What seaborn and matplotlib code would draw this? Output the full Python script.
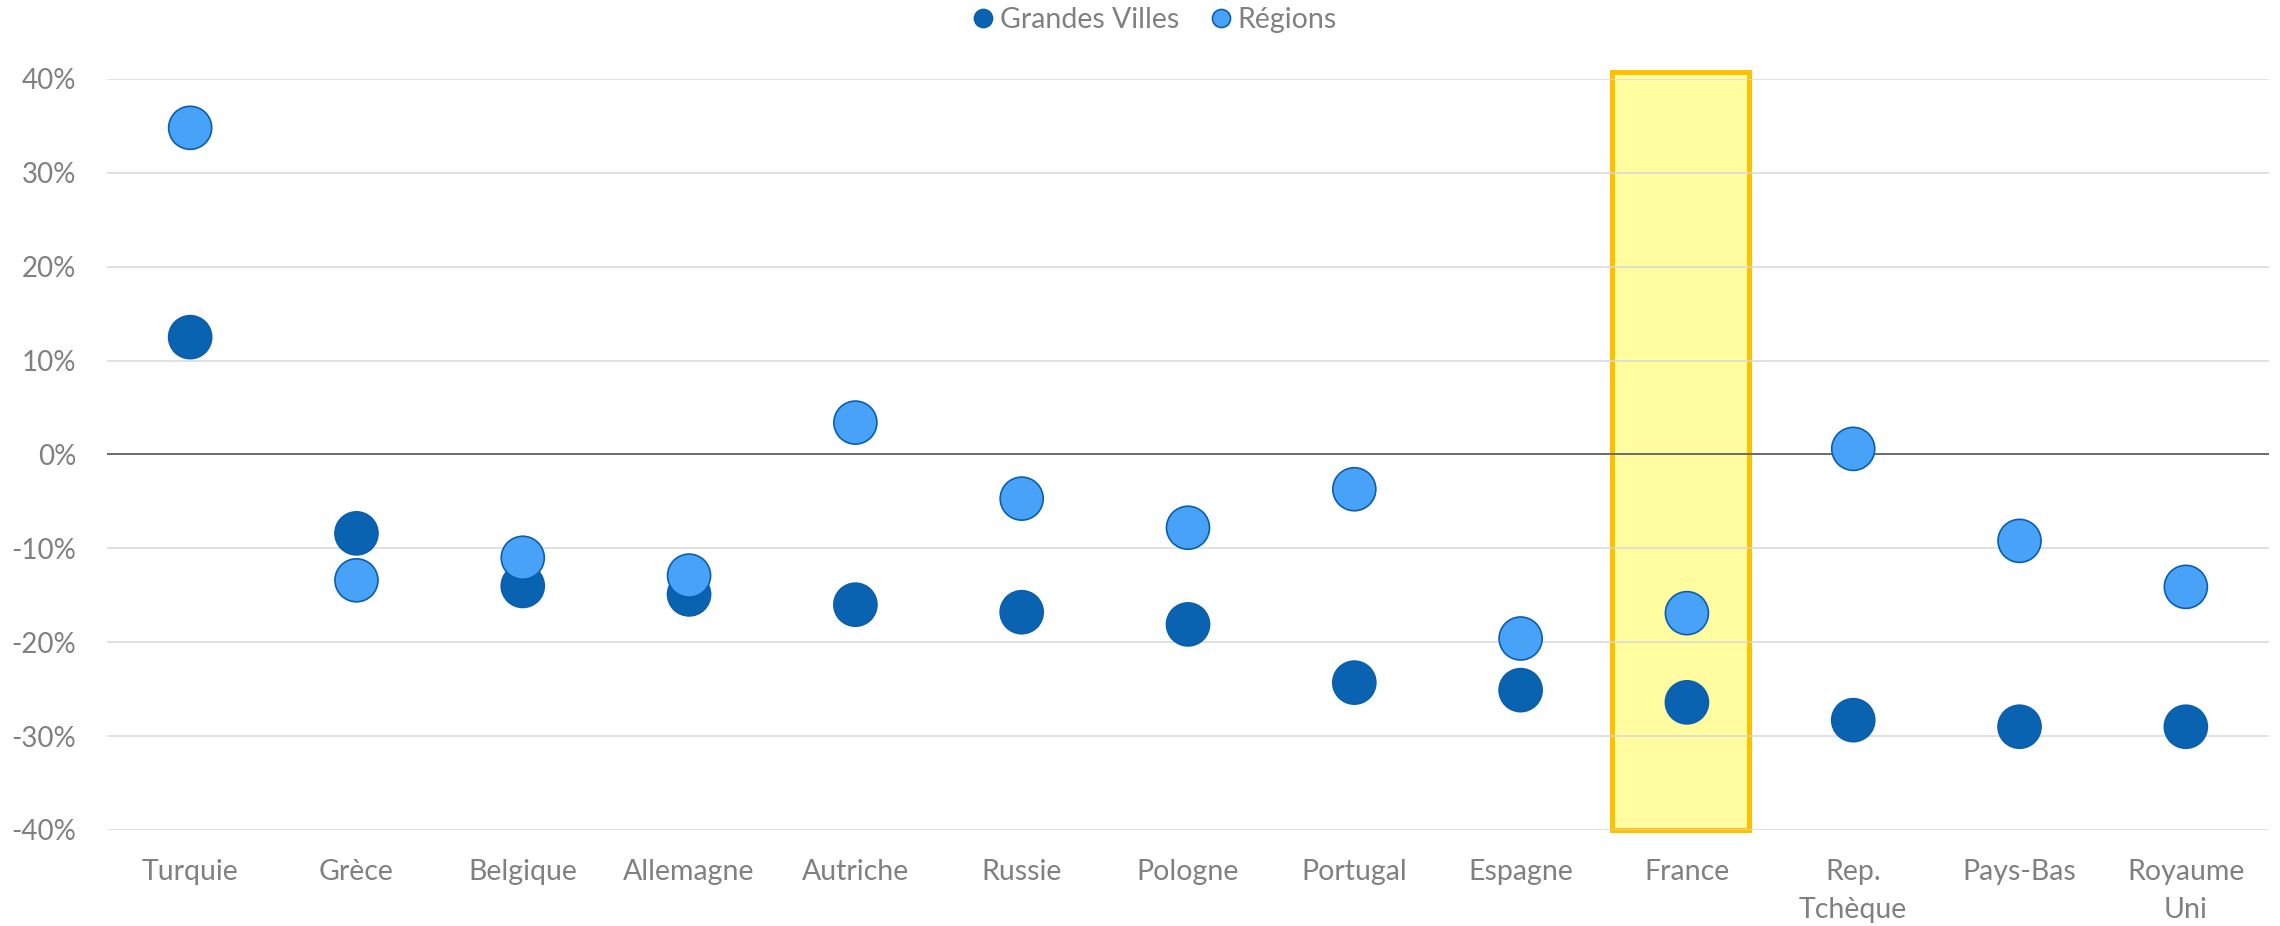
import matplotlib
matplotlib.use("Agg")
import matplotlib.pyplot as plt
import matplotlib.ticker as mticker
from matplotlib.patches import Rectangle
import seaborn as sns
import pandas as pd

# ---- data ----
pays = ["Turquie", "Grèce", "Belgique", "Allemagne", "Autriche", "Russie",
        "Pologne", "Portugal", "Espagne", "France", "Rep.\nTchèque",
        "Pays-Bas", "Royaume\nUni"]
grandes_villes = [12.5, -8.4, -14.0, -14.9, -16.0, -16.8, -18.1, -24.3,
                  -25.1, -26.4, -28.3, -29.0, -29.0]
regions = [34.8, -13.4, -11.0, -12.9, 3.4, -4.7, -7.8, -3.7, -19.6, -16.9,
           0.6, -9.2, -14.1]
series_names = ["Grandes Villes", "Régions"]
highlight = "France"
yticks = [-40, -30, -20, -10, 0, 10, 20, 30, 40]

df = pd.DataFrame({
    "pays": pays * 2,
    "valeur": grandes_villes + regions,
    "serie": [series_names[0]] * len(pays) + [series_names[1]] * len(pays),
})

sns.set_theme(style="white")
plt.rcParams["font.family"] = ["Lato", "DejaVu Sans"]

fig = plt.figure(figsize=(22.8, 9.26), dpi=100)
ax = fig.add_axes([107 / 2280, 1 - 830 / 926, (2269 - 107) / 2280, (830 - 79) / 926])

palette = {series_names[0]: "#0A63B1", series_names[1]: "#48A2F7"}
sns.scatterplot(data=df, x="pays", y="valeur", hue="serie", hue_order=series_names,
                palette=palette, s=960, edgecolor="#0A5EAE", linewidth=1.2,
                ax=ax, zorder=3)

ax.set_xlim(-0.5, len(pays) - 0.5)
ax.set_ylim(-40, 40)
ax.set_yticks(yticks)
ax.yaxis.set_major_formatter(mticker.FuncFormatter(lambda v, p: f"{v:.0f}%"))
ax.set_xlabel("")
ax.set_ylabel("")

# highlight box
hi = pays.index(highlight)
ax.add_patch(Rectangle((hi - 0.45, -40), 0.825, 80.7, facecolor="#FFFDA0",
                       edgecolor="#FFC000", linewidth=3.6, zorder=0.4,
                       clip_on=False))

ax.set_axisbelow(True)
ax.grid(axis="y", color="#D9D9D9", linewidth=1.1)
ax.grid(axis="x", visible=False)
ax.axhline(0, color="#595959", linewidth=1.2, zorder=2)
for s in ax.spines.values():
    s.set_visible(False)

ax.tick_params(axis="y", length=0, pad=22, labelsize=20, labelcolor="#808080")
ax.tick_params(axis="x", length=0, pad=21, labelsize=20.5, labelcolor="#808080")
for lab in ax.get_xticklabels():
    lab.set_linespacing(1.55)

sns.move_legend(ax, "center", bbox_to_anchor=(0.506, 0.978),
                bbox_transform=fig.transFigure, ncol=2, frameon=False,
                title=None, markerscale=0.42, fontsize=20.5,
                labelcolor="#808080", handlelength=0.9, handletextpad=0.15,
                columnspacing=1.0)

fig.savefig("out.png", dpi=100)
